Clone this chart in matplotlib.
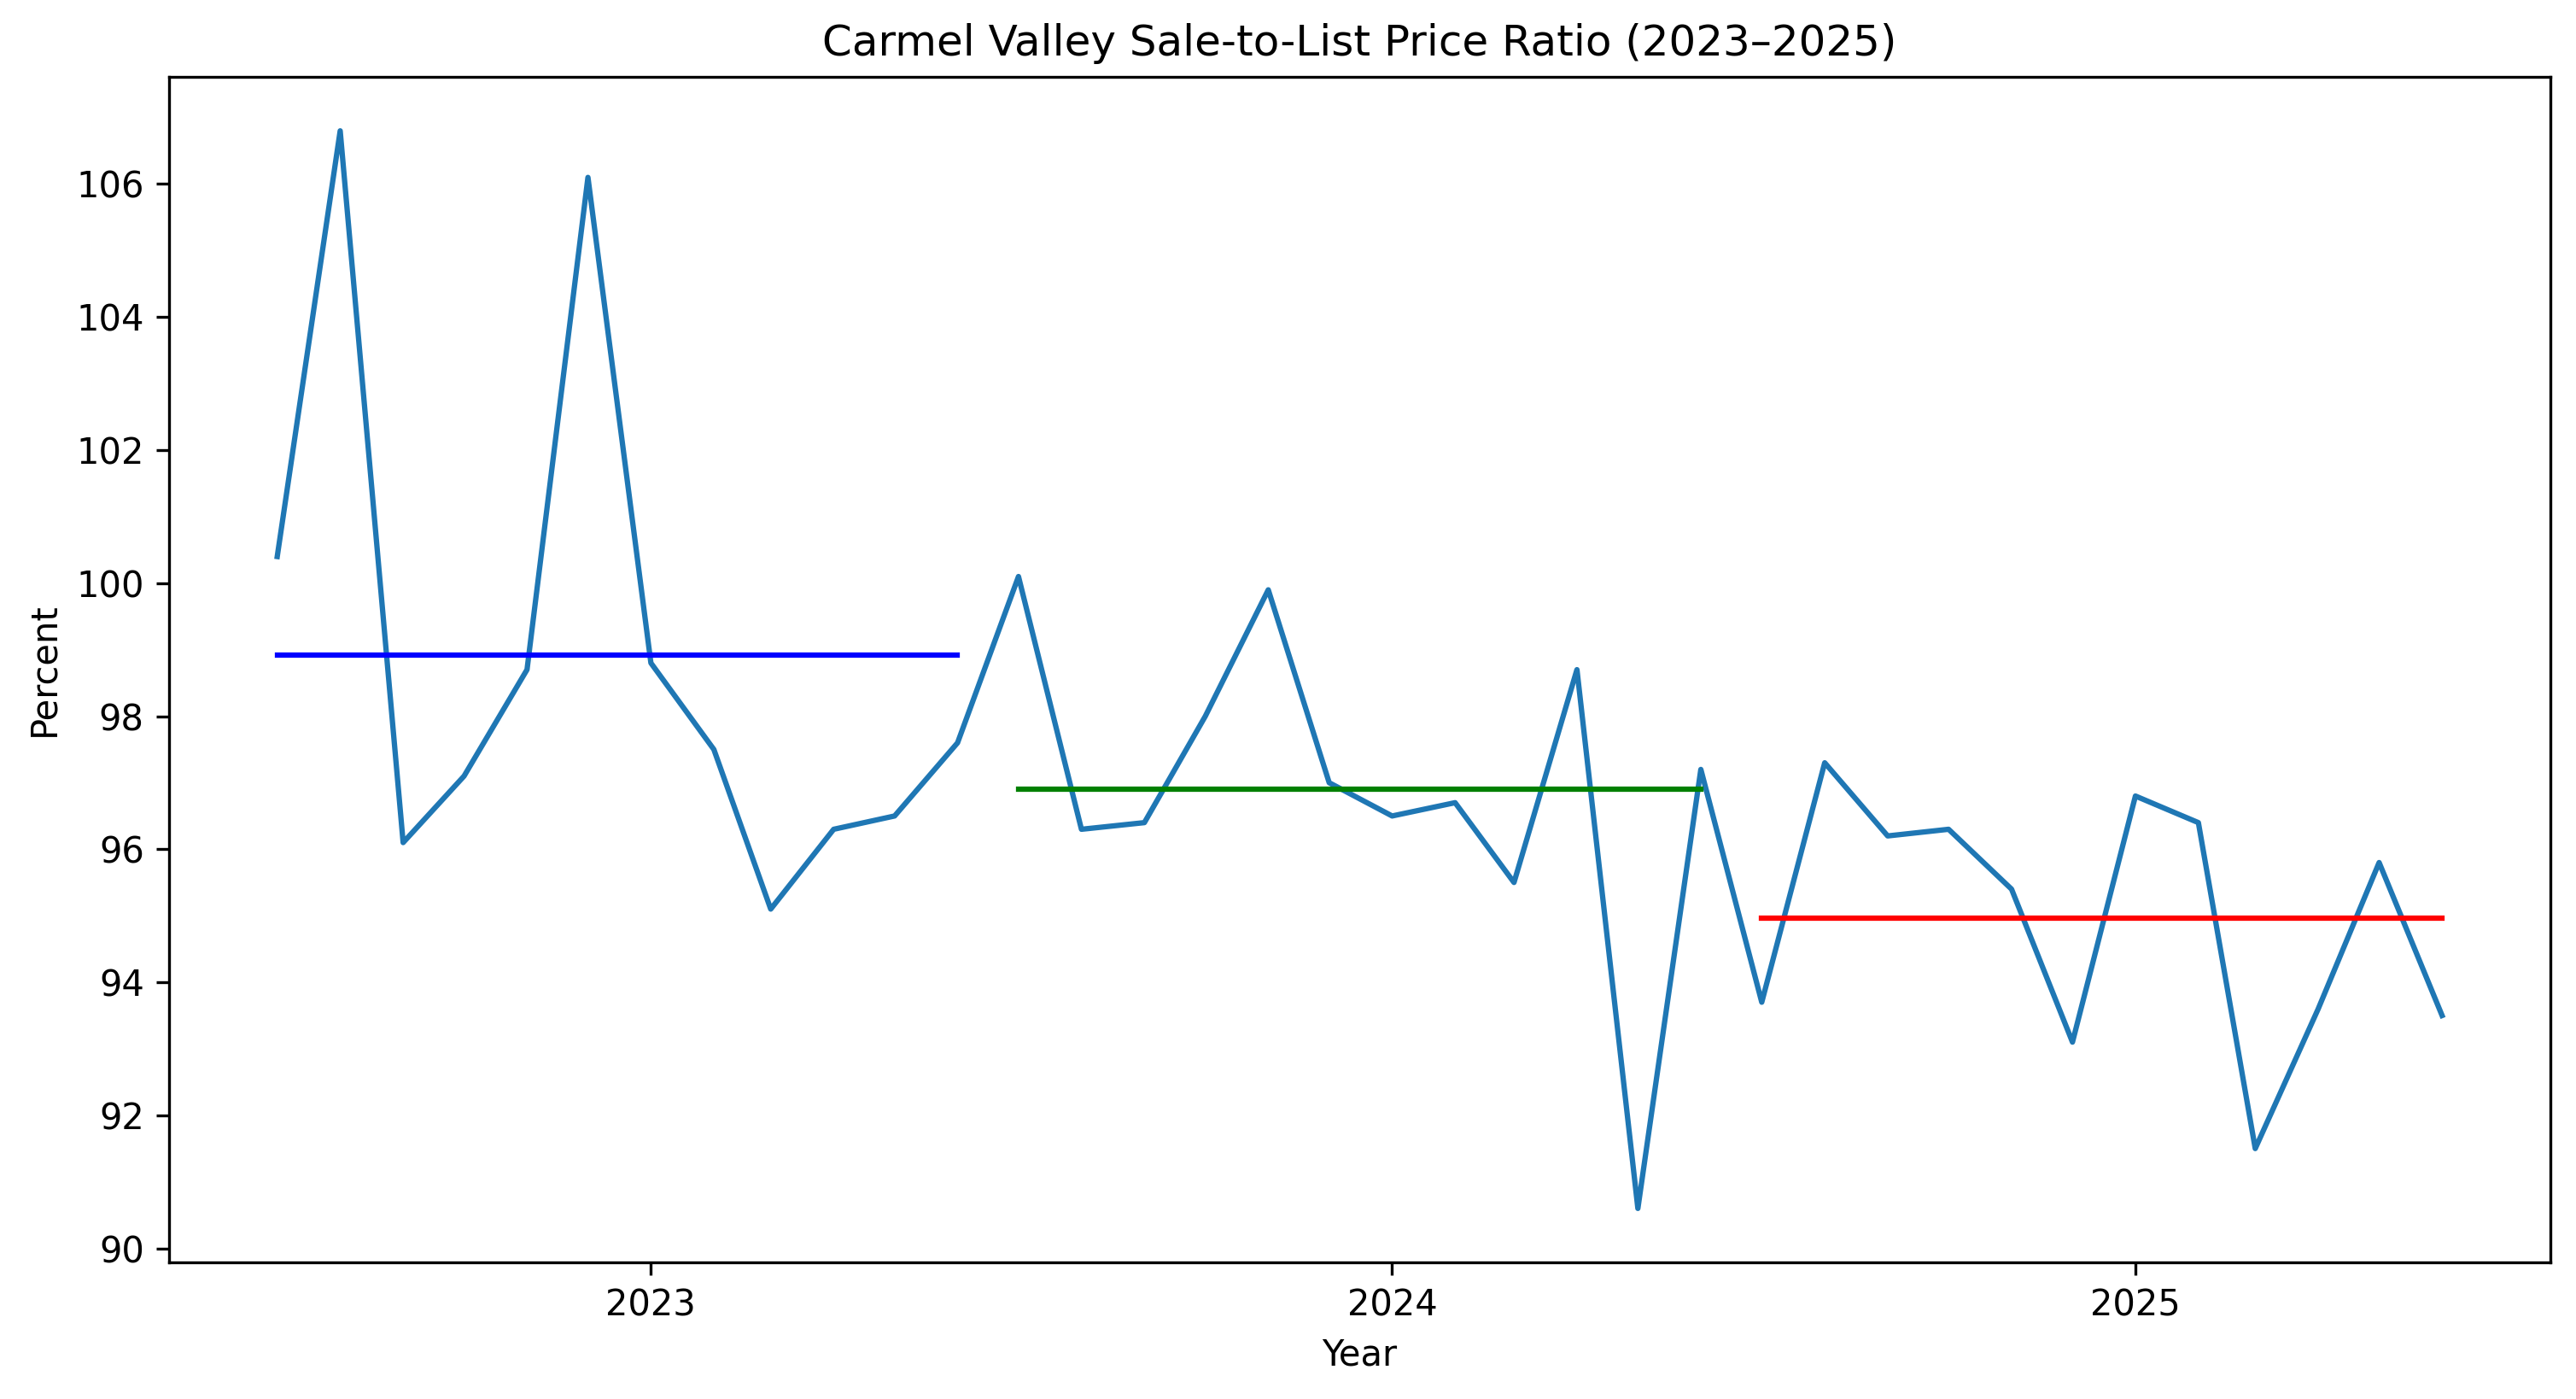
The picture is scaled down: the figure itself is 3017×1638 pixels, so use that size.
import numpy as np
import pandas as pd
import matplotlib
matplotlib.use("Agg")
import matplotlib.pyplot as plt
import matplotlib.dates as mdates

months = pd.date_range("2022-07-01", periods=36, freq="MS")
ratio = [100.4, 106.8, 96.1, 97.1, 98.7, 106.1, 98.8, 97.5, 95.1, 96.3, 96.5, 97.6,
         100.1, 96.3, 96.4, 98.0, 99.9, 97.0, 96.5, 96.7, 95.5, 98.7, 90.6, 97.2,
         93.7, 97.3, 96.2, 96.3, 95.4, 93.1, 96.8, 96.4, 91.5, 93.6, 95.8, 93.5]
period_colors = ["blue", "green", "red"]

fig = plt.figure(figsize=(10.057, 5.46), dpi=300)
ax = fig.add_subplot(111)
plt.subplots_adjust(left=0.0656, right=0.990, top=0.945, bottom=0.0977)

ax.plot(months, ratio, color="#1f77b4", linewidth=1.5)

# 12-month averages
vals = np.array(ratio)
for i, c in enumerate(period_colors):
    seg = slice(i * 12, (i + 1) * 12)
    avg = vals[seg].mean()
    ax.plot([months[i * 12], months[i * 12 + 11]], [avg, avg], color=c, linewidth=1.5)

ax.xaxis.set_major_locator(mdates.YearLocator())
ax.xaxis.set_major_formatter(mdates.DateFormatter("%Y"))
ax.set_title("Carmel Valley Sale-to-List Price Ratio (2023\u20132025)")
ax.set_xlabel("Year")
ax.set_ylabel("Percent")

fig.savefig("out.png", dpi=300)
